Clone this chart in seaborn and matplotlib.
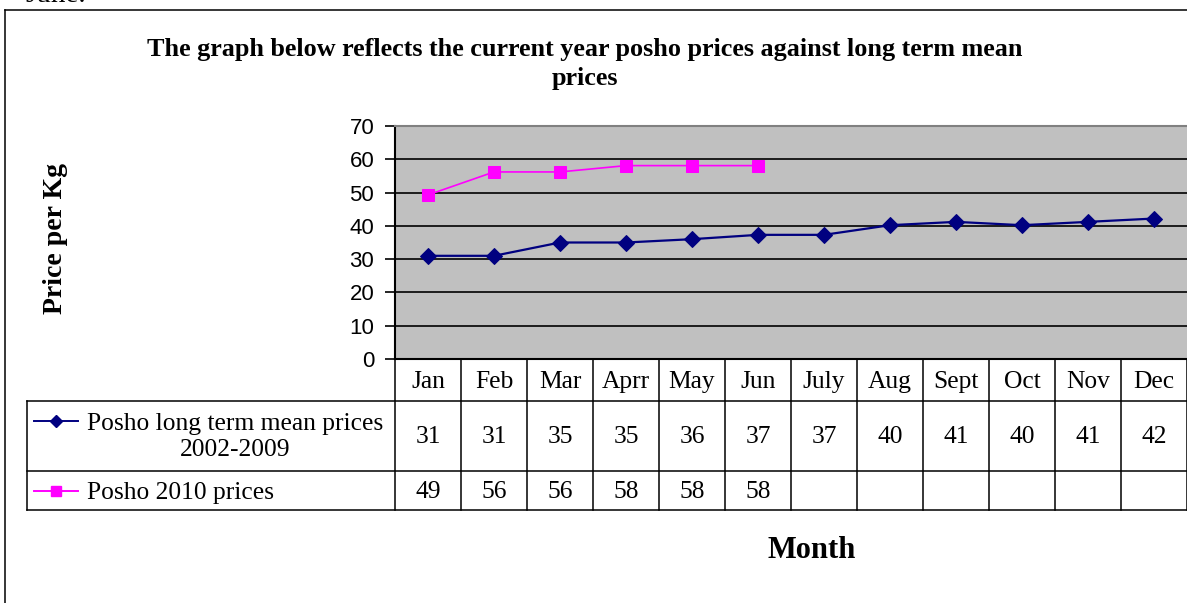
import seaborn as sns
import matplotlib.pyplot as plt

# chart values (table shows them rounded)
months = ['Jan', 'Feb', 'Mar', 'Aprr', 'May', 'Jun', 'July', 'Aug', 'Sept', 'Oct', 'Nov', 'Dec']
long_term = [31, 31, 35, 35, 36, 37.3, 37.3, 40.2, 41.2, 40.2, 41.2, 42.2]
prices_2010 = [49.3, 56.2, 56.2, 58.1, 58.1, 58.1]
long_term_label = 'Posho long term mean prices\n2002-2009'
prices_2010_label = 'Posho 2010 prices'
title = 'The graph below reflects the current year posho prices against long term mean\nprices'

NAVY = '#000080'
MAGENTA = '#FF00FF'
SERIF = 'Liberation Serif'
SANS = 'Liberation Sans'
TABLE_FS = 18.4

# layout in pixels
W, H = 1187, 603
plot_l, plot_r, plot_t, plot_b = 395, 1187, 126, 359
row1_top, row2_top, table_bottom = 401, 471, 510
table_left = 27
cell_w = (plot_r - plot_l) / len(months)

fig = plt.figure(figsize=(W / 100, H / 100), dpi=100)
ax = fig.add_axes([plot_l / W, 1 - plot_b / H, (plot_r - plot_l) / W, (plot_b - plot_t) / H])
ax.set_facecolor('#C0C0C0')

x_idx = list(range(len(months)))
sns.lineplot(x=x_idx, y=long_term, ax=ax, color=NAVY, lw=1.6, marker='D',
             markersize=8, markeredgecolor=NAVY, zorder=3)
sns.lineplot(x=x_idx[:len(prices_2010)], y=prices_2010, ax=ax, color=MAGENTA, lw=1.2,
             marker='s', markersize=9, markeredgecolor=MAGENTA, zorder=3)

ax.set_xlim(-0.5, len(months) - 0.5)
ax.set_ylim(0, 70)
ax.set_yticks(range(0, 71, 10))
ax.set_xticks([])
ax.yaxis.grid(True, color='black', lw=1.2)
ax.set_axisbelow(True)
ax.tick_params(axis='y', direction='out', length=7, width=1.2, pad=8, labelsize=16)
for lab in ax.get_yticklabels():
    lab.set_fontfamily(SANS)
ax.spines['right'].set_visible(False)
ax.spines['top'].set_color('#808080')
ax.spines['top'].set_linewidth(1.5)
for s in ['left', 'bottom']:
    ax.spines[s].set_color('black')
    ax.spines[s].set_linewidth(1.5)

# overlay in pixel coordinates for table, titles and border
ov = fig.add_axes([0, 0, 1, 1])
ov.set_xlim(0, W)
ov.set_ylim(H, 0)
ov.axis('off')

kw = dict(color='black', lw=1.1)
ov.plot([5, 5], [10, H + 5], **kw)
ov.plot([5, W + 5], [10, 10], **kw)
ov.text(25, 2, 'June.', family=SERIF, size=21, va='baseline')

ov.text(585, 64, title, family=SERIF, size=18.8, weight='bold', ha='center', va='center',
        multialignment='center', linespacing=1.35)
ov.text(55, 239, 'Price per Kg', family=SERIF, size=20, weight='bold', rotation=90,
        ha='center', va='center')
ov.text(812, 551, 'Month', family=SERIF, size=22, weight='bold', ha='center', va='center')

# data table grid
for k in range(len(months) + 1):
    xk = plot_l + k * cell_w
    ov.plot([xk, xk], [plot_b, table_bottom], **kw)
for yk in [row1_top, row2_top, table_bottom]:
    ov.plot([table_left, W + 5], [yk, yk], **kw)
ov.plot([table_left, table_left], [row1_top, table_bottom], **kw)

row1_y = (row1_top + row2_top) / 2
row2_y = (row2_top + table_bottom) / 2 + 2
for i, m in enumerate(months):
    cx = plot_l + (i + 0.5) * cell_w
    ov.text(cx, (plot_b + row1_top) / 2 + 2, m, family=SERIF, size=TABLE_FS, ha='center', va='center')
    ov.text(cx, row1_y + 1, f'{round(long_term[i])}', family=SERIF, size=TABLE_FS,
            ha='center', va='center')
    if i < len(prices_2010):
        ov.text(cx, row2_y, f'{round(prices_2010[i])}', family=SERIF, size=TABLE_FS,
                ha='center', va='center')

# legend keys inside the table
for yk, col, mk, ms in [(row1_y - 15, NAVY, 'D', 6), (row2_y - 2, MAGENTA, 's', 7)]:
    ov.plot([34, 78], [yk, yk], color=col, lw=1.4)
    ov.plot([56], [yk], color=col, marker=mk, markersize=ms)
ov.text(87, row1_y + 1, long_term_label, family=SERIF, size=TABLE_FS, ha='left', va='center',
        multialignment='center', linespacing=1.25)
ov.text(87, row2_y, prices_2010_label, family=SERIF, size=TABLE_FS, ha='left', va='center')

fig.savefig('out.png', dpi=100)
